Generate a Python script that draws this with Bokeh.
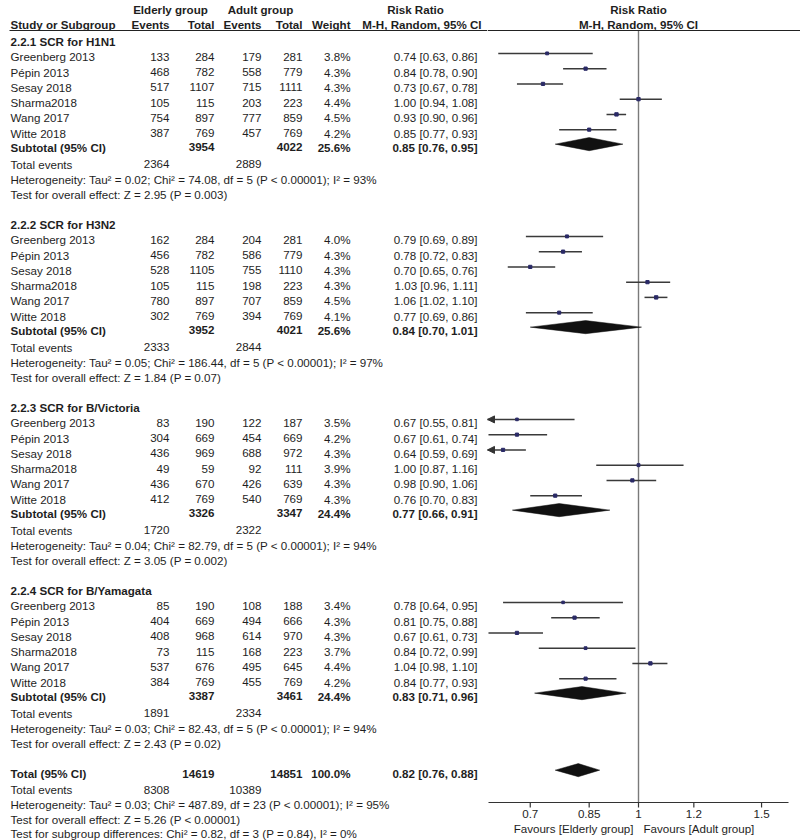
import math
from bokeh.plotting import figure
from bokeh.layouts import row
from bokeh.models import (Range1d, ColumnDataSource, Arrow, NormalHead, Span)
from bokeh.core.properties import value
from bokeh.embed import file_html
from bokeh.resources import INLINE

# ---------------- data ----------------
group_titles = ["2.2.1 SCR for H1N1", "2.2.2 SCR for H3N2",
                "2.2.3 SCR for B/Victoria", "2.2.4 SCR for B/Yamagata"]
study_names = ["Greenberg 2013", "Pépin 2013", "Sesay 2018", "Sharma2018", "Wang 2017", "Witte 2018"]

elderly_events = [[133, 468, 517, 105, 754, 387],
                  [162, 456, 528, 105, 780, 302],
                  [83, 304, 436, 49, 436, 412],
                  [85, 404, 408, 73, 537, 384]]
elderly_total = [[284, 782, 1107, 115, 897, 769],
                 [284, 782, 1105, 115, 897, 769],
                 [190, 669, 969, 59, 670, 769],
                 [190, 669, 968, 115, 676, 769]]
adult_events = [[179, 558, 715, 203, 777, 457],
                [204, 586, 755, 198, 707, 394],
                [122, 454, 688, 92, 426, 540],
                [108, 494, 614, 168, 495, 455]]
adult_total = [[281, 779, 1111, 223, 859, 769],
               [281, 779, 1110, 223, 859, 769],
               [187, 669, 972, 111, 639, 769],
               [188, 666, 970, 223, 645, 769]]
weights = [[3.8, 4.3, 4.3, 4.4, 4.5, 4.2],
           [4.0, 4.3, 4.3, 4.3, 4.5, 4.1],
           [3.5, 4.2, 4.3, 3.9, 4.3, 4.3],
           [3.4, 4.3, 4.3, 3.7, 4.4, 4.2]]
rr = [[0.74, 0.84, 0.73, 1.00, 0.93, 0.85],
      [0.79, 0.78, 0.70, 1.03, 1.06, 0.77],
      [0.67, 0.67, 0.64, 1.00, 0.98, 0.76],
      [0.78, 0.81, 0.67, 0.84, 1.04, 0.84]]
rr_lo = [[0.63, 0.78, 0.67, 0.94, 0.90, 0.77],
         [0.69, 0.72, 0.65, 0.96, 1.02, 0.69],
         [0.55, 0.61, 0.59, 0.87, 0.90, 0.70],
         [0.64, 0.75, 0.61, 0.72, 0.98, 0.77]]
rr_hi = [[0.86, 0.90, 0.78, 1.08, 0.96, 0.93],
         [0.89, 0.83, 0.76, 1.11, 1.10, 0.86],
         [0.81, 0.74, 0.69, 1.16, 1.06, 0.83],
         [0.95, 0.88, 0.73, 0.99, 1.10, 0.93]]

sub_elderly_total = [3954, 3952, 3326, 3387]
sub_adult_total = [4022, 4021, 3347, 3461]
sub_weight = [25.6, 25.6, 24.4, 24.4]
sub_rr = [0.85, 0.84, 0.77, 0.83]
sub_lo = [0.76, 0.70, 0.66, 0.71]
sub_hi = [0.95, 1.01, 0.91, 0.96]
te_elderly = [2364, 2333, 1720, 1891]
te_adult = [2889, 2844, 2322, 2334]
het_tau2 = [0.02, 0.05, 0.04, 0.03]
het_chi2 = [74.08, 186.44, 82.79, 82.43]
het_df = [5, 5, 5, 5]
het_i2 = [93, 97, 94, 94]
z_value = [2.95, 1.84, 3.05, 2.43]
z_p = ["0.003", "0.07", "0.002", "0.02"]

total_elderly_total = 14619
total_adult_total = 14851
total_weight = 100.0
total_rr, total_lo, total_hi = 0.82, 0.76, 0.88
total_te_elderly, total_te_adult = 8308, 10389
total_het = "Heterogeneity: Tau² = 0.03; Chi² = 487.89, df = 23 (P < 0.00001); I² = 95%"
total_test = "Test for overall effect: Z = 5.26 (P < 0.00001)"
subgroup_test = "Test for subgroup differences: Chi² = 0.82, df = 3 (P = 0.84), I² = 0%"

tick_values = [0.7, 0.85, 1, 1.2, 1.5]
tick_labels = ["0.7", "0.85", "1", "1.2", "1.5"]
favours_left = "Favours [Elderly group]"
favours_right = "Favours [Adult group]"

# ---------------- layout constants ----------------
FONT = "Liberation Sans"
FS = "11.6px"
TXT = "#1e1e1e"
U = 15.25          # px per row
O = 41.0           # page y of first group header
TOTAL_H = 840
LEFT_W = 487
RIGHT_W = 313
y_top = -O / U
y_bot = (TOTAL_H - O) / U
y_axis = (802 - O) / U           # row position of the forest axis line
PPU = 303.5        # px per ln unit on the forest axis
X1_PX = 151        # px of RR=1 in the forest frame
x_lo_range = math.exp(-X1_PX / PPU)
x_hi_range = math.exp((RIGHT_W - X1_PX) / PPU)
axis_half = math.exp(150 / PPU)

# column anchors (page-x units)
X_NAME, X_EVE, X_TOTE, X_EVA, X_TOTA, X_W, X_RR = 10, 169, 214, 261, 302, 350, 477

texts = {("left", "normal"): [], ("left", "bold"): [], ("right", "normal"): [],
         ("right", "bold"): [], ("center", "bold"): []}


def put(x, y, s, align="left", style="normal"):
    texts[(align, style)].append((x, y, s))


def fmt_rr(r, l, h):
    return f"{r:.2f} [{l:.2f}, {h:.2f}]"


# headers
put(170, -2.1, "Elderly group", "center", "bold")
put(260, -2.1, "Adult group", "center", "bold")
put(415, -2.1, "Risk Ratio", "center", "bold")
put(X_NAME, -1.1, "Study or Subgroup", "left", "bold")
put(X_EVE, -1.1, "Events", "right", "bold")
put(X_TOTE, -1.1, "Total", "right", "bold")
put(X_EVA, -1.1, "Events", "right", "bold")
put(X_TOTA, -1.1, "Total", "right", "bold")
put(X_W, -1.1, "Weight", "right", "bold")
put(481, -1.1, "M-H, Random, 95% CI", "right", "bold")

st_y, st_rr, st_lo, st_hi, st_w = [], [], [], [], []
dm_xs, dm_ys = [], []
DOFF = -0.22
DH = 0.43

for g in range(4):
    base = 12 * g
    put(X_NAME, base, group_titles[g], "left", "bold")
    for i in range(6):
        y = base + 1 + i
        put(X_NAME, y, study_names[i])
        put(X_EVE, y, str(elderly_events[g][i]), "right")
        put(X_TOTE, y, str(elderly_total[g][i]), "right")
        put(X_EVA, y, str(adult_events[g][i]), "right")
        put(X_TOTA, y, str(adult_total[g][i]), "right")
        put(X_W, y, f"{weights[g][i]:.1f}%", "right")
        put(X_RR, y, fmt_rr(rr[g][i], rr_lo[g][i], rr_hi[g][i]), "right")
        st_y.append(y + DOFF)
        st_rr.append(rr[g][i])
        st_lo.append(rr_lo[g][i])
        st_hi.append(rr_hi[g][i])
        st_w.append(weights[g][i])
    ys = base + 6.95
    put(X_NAME, ys, "Subtotal (95% CI)", "left", "bold")
    put(X_TOTE, ys, str(sub_elderly_total[g]), "right", "bold")
    put(X_TOTA, ys, str(sub_adult_total[g]), "right", "bold")
    put(X_W, ys, f"{sub_weight[g]:.1f}%", "right", "bold")
    put(X_RR, ys, fmt_rr(sub_rr[g], sub_lo[g], sub_hi[g]), "right", "bold")
    dm_xs.append([sub_lo[g], sub_rr[g], sub_hi[g], sub_rr[g]])
    yd = ys + DOFF
    dm_ys.append([yd, yd - DH, yd, yd + DH])
    put(X_NAME, base + 8.05, "Total events")
    put(X_EVE, base + 8.05, str(te_elderly[g]), "right")
    put(X_EVA, base + 8.05, str(te_adult[g]), "right")
    put(X_NAME, base + 9.05,
        f"Heterogeneity: Tau² = {het_tau2[g]:.2f}; Chi² = {het_chi2[g]:.2f}, df = {het_df[g]} "
        f"(P < 0.00001); I² = {het_i2[g]}%")
    put(X_NAME, base + 10.05, f"Test for overall effect: Z = {z_value[g]:.2f} (P = {z_p[g]})")

yt = 48
put(X_NAME, yt, "Total (95% CI)", "left", "bold")
put(X_TOTE, yt, str(total_elderly_total), "right", "bold")
put(X_TOTA, yt, str(total_adult_total), "right", "bold")
put(X_W, yt, f"{total_weight:.1f}%", "right", "bold")
put(X_RR, yt, fmt_rr(total_rr, total_lo, total_hi), "right", "bold")
dm_xs.append([total_lo, total_rr, total_hi, total_rr])
dm_ys.append([yt + DOFF, yt + DOFF - DH, yt + DOFF, yt + DOFF + DH])
put(X_NAME, yt + 1.05, "Total events")
put(X_EVE, yt + 1.05, str(total_te_elderly), "right")
put(X_EVA, yt + 1.05, str(total_te_adult), "right")
put(X_NAME, yt + 2.05, total_het)
put(X_NAME, yt + 3.02, total_test)
put(X_NAME, yt + 3.92, subgroup_test)

# ---------------- left (table) figure ----------------
left = figure(width=LEFT_W, height=TOTAL_H, x_range=Range1d(0, LEFT_W),
              y_range=Range1d(y_bot, y_top), min_border=0,
              toolbar_location=None, output_backend="svg",
              x_axis_location=None, y_axis_location=None,
              outline_line_color=None, background_fill_color="white",
              border_fill_color="white")
left.grid.visible = False

for (align, style), items in texts.items():
    if not items:
        continue
    src = ColumnDataSource(dict(x=[t[0] for t in items], y=[t[1] for t in items],
                                s=[t[2] for t in items]))
    left.text(x="x", y="y", text="s", source=src, text_align=align, text_baseline="middle",
              text_font=value(FONT), text_font_size=FS, text_font_style=style,
              text_color=TXT)

left.segment(x0=[X_NAME - 1], x1=[LEFT_W], y0=[-0.72], y1=[-0.72], line_color="#222222",
             line_width=1.2)

# ---------------- right (forest) figure ----------------
right = figure(width=RIGHT_W, height=TOTAL_H, x_axis_type="log",
               x_range=Range1d(x_lo_range, x_hi_range),
               y_range=Range1d(y_bot, y_top), min_border=0,
               toolbar_location=None, output_backend="svg",
               x_axis_location=None, y_axis_location=None, outline_line_color=None,
               background_fill_color="white", border_fill_color="white")
right.grid.visible = False

right.add_layout(Span(location=-0.72, dimension="width", line_color="#222222", line_width=1.2))
right.segment(x0=[1], x1=[1], y0=[-0.72], y1=[y_axis], line_color="#7a7a7a",
              line_width=1.4)

right.text(x=[1, 1], y=[-2.1, -1.1], text=["Risk Ratio", "M-H, Random, 95% CI"],
           text_align="center", text_baseline="middle", text_font=value(FONT),
           text_font_size=FS, text_font_style="bold", text_color=TXT)

ssrc = ColumnDataSource(dict(y=st_y, rr=st_rr, lo=st_lo, hi=st_hi,
                             sz=[w * 0.75 for w in st_w]))
right.segment(x0="lo", x1="hi", y0="y", y1="y", source=ssrc, line_color="#3a3a3a",
              line_width=1.5)
right.scatter(x="rr", y="y", size="sz", marker="square", source=ssrc,
              fill_color="#2a2a66", line_color="#2a2a66")

# arrows for intervals running off the left edge
ay = [y for y, l in zip(st_y, st_lo) if l < x_lo_range]
asrc = ColumnDataSource(dict(x0=[x_lo_range * 1.02] * len(ay), x1=[x_lo_range] * len(ay), y=ay))
right.add_layout(Arrow(end=NormalHead(size=7, fill_color="#333333", line_color="#333333"),
                       x_start="x0", x_end="x1", y_start="y", y_end="y", source=asrc,
                       line_color="#3a3a3a", line_width=1.5))

right.patches(xs=dm_xs, ys=dm_ys, fill_color="#111111", line_color="#111111", line_width=0.5)

# forest axis drawn on the log scale: line, ticks, labels, favours captions
right.segment(x0=[1 / axis_half], x1=[axis_half], y0=[y_axis], y1=[y_axis],
              line_color="#333333", line_width=1.2)
tsrc = ColumnDataSource(dict(x=tick_values, lab=tick_labels,
                             y0=[y_axis] * len(tick_values),
                             y1=[y_axis + 5 / U] * len(tick_values),
                             yl=[y_axis + 11 / U] * len(tick_values)))
right.segment(x0="x", x1="x", y0="y0", y1="y1", source=tsrc, line_color="#333333",
              line_width=1.2)
right.text(x="x", y="yl", text="lab", source=tsrc, text_align="center",
           text_baseline="middle", text_font=value(FONT), text_font_size=FS, text_color=TXT)
right.text(x=[1], y=[y_axis + 26 / U], text=[favours_left], x_offset=-5,
           text_align="right", text_baseline="middle", text_font=value(FONT),
           text_font_size=FS, text_color=TXT)
right.text(x=[1], y=[y_axis + 26 / U], text=[favours_right], x_offset=5,
           text_align="left", text_baseline="middle", text_font=value(FONT),
           text_font_size=FS, text_color=TXT)

layout = row(left, right)
open("out.html", "w").write(file_html(layout, INLINE))
